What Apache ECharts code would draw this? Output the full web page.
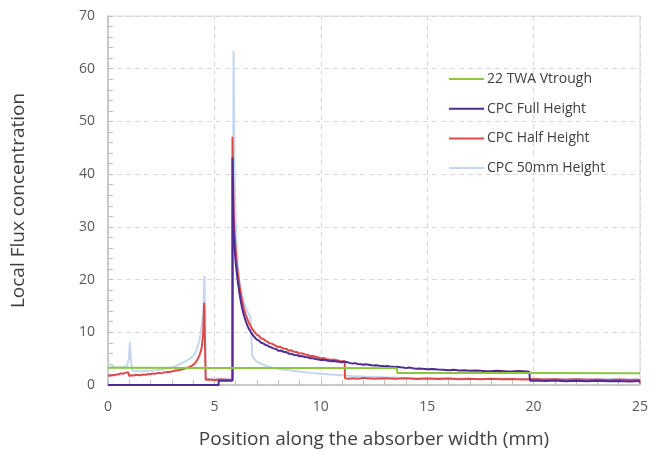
<!DOCTYPE html>
<html>
<head>
<meta charset="utf-8">
<script src="https://cdn.jsdelivr.net/npm/echarts@6/dist/echarts.min.js"></script>
<style>
  html, body { margin: 0; padding: 0; background: #fff; }
  #chart { width: 651px; height: 454px; }
</style>
</head>
<body>
<div id="chart"></div>
<script>
// Local flux concentration profiles across the absorber, [position mm, concentration]
const seriesNames = ['22 TWA Vtrough', 'CPC Full Height', 'CPC Half Height', 'CPC 50mm Height'];

const vtrough = [
  [0, 3.25], [5, 3.23], [10, 3.22], [13.57, 3.2], [13.6, 2.3], [20, 2.27], [25, 2.25]
];

const fullHeight = [
  [0, 0], [5.2, 0], [5.2, 0.8], [5.85, 0.8], [5.85, 43.1], [5.9, 30], [5.95, 26],
  [6.0, 23.2], [6.05, 21.3], [6.1, 19.6], [6.2, 16.8], [6.3, 14.6], [6.4, 13.0],
  [6.5, 11.8], [6.6, 10.8], [6.7, 10.1], [6.8, 9.5], [6.9, 9.0], [7.0, 8.6],
  [7.1, 8.4], [7.2, 8.0], [7.3, 7.9], [7.4, 7.6], [7.5, 7.5], [7.6, 7.2], [7.7, 7.1],
  [7.8, 6.9], [7.9, 6.8], [8.0, 6.5], [8.1, 6.55], [8.25, 6.3], [8.4, 6.2],
  [8.5, 5.95], [8.6, 5.95], [8.75, 5.7], [8.9, 5.65], [9.0, 5.45], [9.1, 5.5],
  [9.25, 5.3], [9.4, 5.25], [9.5, 5.05], [9.6, 5.1], [9.75, 4.95], [9.9, 4.85],
  [10, 4.75], [10.1, 4.8], [10.25, 4.7], [10.4, 4.55], [10.5, 4.5], [10.6, 4.55],
  [10.75, 4.45], [10.9, 4.35], [11, 4.3], [11.1, 4.4], [11.25, 4.3], [11.4, 4.15],
  [11.5, 4.1], [11.6, 4.15], [11.75, 4.0], [11.9, 3.95], [12, 3.85], [12.1, 3.95],
  [12.25, 3.85], [12.4, 3.75], [12.5, 3.7], [12.6, 3.75], [12.75, 3.65],
  [12.9, 3.6], [13, 3.5], [13.1, 3.6], [13.25, 3.5], [13.4, 3.45], [13.5, 3.4],
  [13.6, 3.45], [13.75, 3.35], [13.9, 3.3], [14, 3.2], [14.1, 3.3], [14.25, 3.25],
  [14.4, 3.15], [14.5, 3.1], [14.6, 3.15], [14.75, 3.1], [14.9, 3.05], [15, 3.0],
  [15.25, 3.05], [15.5, 2.95], [15.75, 2.9], [16, 2.8], [16.25, 2.9], [16.5, 2.75],
  [16.75, 2.8], [17, 2.7], [17.25, 2.75], [17.5, 2.7], [17.75, 2.6], [18, 2.6],
  [18.25, 2.7], [18.5, 2.65], [18.75, 2.55], [19, 2.55], [19.25, 2.65], [19.5, 2.6],
  [19.8, 2.5], [19.83, 0.8], [20.25, 0.85], [20.5, 0.75], [21, 0.85], [21.5, 0.7],
  [22, 0.8], [22.5, 0.7], [23, 0.8], [23.5, 0.7], [24, 0.75], [24.5, 0.65], [25, 0.75]
];

const halfHeight = [
  [0, 1.8], [0.1, 1.75], [0.2, 1.9], [0.3, 1.85], [0.4, 2.0], [0.5, 2.05], [0.6, 2.2],
  [0.7, 2.15], [0.8, 2.3], [0.95, 2.4], [1.0, 1.7], [1.1, 1.85], [1.2, 1.8],
  [1.3, 1.95], [1.4, 1.9], [1.5, 1.85], [1.6, 1.95], [1.7, 2.0], [1.8, 1.95],
  [1.9, 2.1], [2.0, 2.05], [2.1, 2.2], [2.2, 2.1], [2.3, 2.25], [2.4, 2.3],
  [2.5, 2.2], [2.6, 2.35], [2.7, 2.4], [2.8, 2.5], [2.9, 2.45], [3.0, 2.6],
  [3.1, 2.65], [3.2, 2.8], [3.3, 2.75], [3.4, 2.9], [3.5, 3.0], [3.6, 3.1],
  [3.7, 3.2], [3.8, 3.4], [3.9, 3.55], [4.0, 3.8], [4.1, 4.2], [4.2, 4.8],
  [4.3, 5.6], [4.4, 7.0], [4.47, 9.5], [4.52, 15.6], [4.57, 15.6], [4.59, 1.0],
  [4.8, 1.05], [5.0, 0.9], [5.2, 1.05], [5.5, 1.0], [5.7, 0.95], [5.85, 1.0],
  [5.85, 47.1], [5.9, 33], [5.95, 28.5], [6.0, 25.5], [6.05, 23.2], [6.1, 21.3],
  [6.2, 18.3], [6.3, 16.0], [6.4, 14.3], [6.5, 13.0], [6.6, 12.0], [6.7, 11.2],
  [6.8, 10.5], [6.9, 10.0], [7.0, 9.5], [7.1, 9.3], [7.2, 8.8], [7.3, 8.75],
  [7.4, 8.4], [7.5, 8.2], [7.6, 7.9], [7.7, 7.85], [7.8, 7.6], [7.9, 7.4],
  [8.0, 7.2], [8.1, 7.25], [8.25, 6.9], [8.4, 6.85], [8.5, 6.5], [8.6, 6.6],
  [8.75, 6.3], [8.9, 6.2], [9.0, 5.95], [9.1, 6.05], [9.25, 5.8], [9.4, 5.7],
  [9.5, 5.45], [9.6, 5.55], [9.75, 5.35], [9.9, 5.2], [10, 5.05], [10.1, 5.15],
  [10.25, 4.95], [10.4, 4.85], [10.5, 4.75], [10.6, 4.85], [10.75, 4.7],
  [10.9, 4.55], [11, 4.5], [11.12, 4.55], [11.14, 1.3], [11.3, 1.2], [11.5, 1.3],
  [11.75, 1.2], [12, 1.35], [12.5, 1.2], [13, 1.3], [13.5, 1.2], [14, 1.3],
  [14.5, 1.15], [15, 1.25], [15.5, 1.15], [16, 1.25], [16.5, 1.1], [17, 1.2],
  [17.5, 1.1], [18, 1.2], [18.5, 1.1], [19, 1.15], [19.5, 1.05], [20, 1.15],
  [20.5, 1.05], [21, 1.1], [21.5, 1.0], [22, 1.1], [22.5, 1.0], [23, 1.05],
  [23.5, 0.95], [24, 1.05], [24.5, 0.95], [24.95, 1.0], [25, 0.3]
];

const height50mm = [
  [0, 4.0], [0.15, 3.8], [0.3, 3.4], [0.5, 3.3], [0.7, 3.4], [0.9, 3.6], [0.98, 5.0],
  [1.03, 8.1], [1.08, 4.5], [1.15, 2.7], [1.5, 2.6], [2.0, 2.7], [2.5, 2.9],
  [3.0, 3.3], [3.4, 4.0], [3.7, 4.6], [4.0, 5.5], [4.15, 6.5], [4.3, 8.5],
  [4.4, 11], [4.48, 14], [4.53, 20.7], [4.57, 12], [4.6, 1.2], [5.85, 1.2],
  [5.9, 63.3], [5.95, 40], [6.0, 31], [6.05, 26], [6.1, 22.5], [6.2, 19],
  [6.3, 17], [6.4, 15.6], [6.5, 14.5], [6.6, 13.6], [6.7, 12.8], [6.74, 12.5],
  [6.78, 5.5], [6.9, 4.8], [7.0, 4.4], [7.25, 3.9], [7.5, 3.5], [8, 3.05],
  [8.5, 2.8], [9, 2.55], [9.5, 2.3], [10, 2.15], [10.5, 2.0], [11, 1.85],
  [11.5, 1.7], [12, 1.6], [13, 1.45], [14, 1.35], [15, 1.3], [17, 1.2],
  [20, 1.15], [25, 1.1]
];

const xTicks = { min: 0, max: 25, interval: 5 };
const yTicks = { min: 0, max: 70, interval: 10 };

const colors = ['#8dc63f', '#4f2c94', '#dc4b4b', '#c6d6ef'];
const FONT = 'Open Sans';

const chart = echarts.init(document.getElementById('chart'), null, { renderer: 'canvas' });

function lineSeries(name, data, color, z, width) {
  return {
    name: name,
    type: 'line',
    data: data,
    showSymbol: false,
    symbol: 'none',
    z: z,
    animation: false,
    lineStyle: { color: color, width: width },
    itemStyle: { color: color }
  };
}

chart.setOption({
  backgroundColor: '#ffffff',
  animation: false,
  color: colors,
  grid: {
    left: 108, right: 9, top: 16, bottom: 68,
    show: true, borderColor: '#d9d9d9', borderWidth: 1, backgroundColor: 'transparent'
  },
  legend: {
    orient: 'vertical',
    left: 444, top: 67,
    itemWidth: 35, itemHeight: 14, itemGap: 15.7,
    icon: 'path://M0,6 L35,6 L35,8 L0,8 Z',
    textStyle: { fontFamily: FONT, fontSize: 14, color: '#404040', padding: [0, 0, 0, -2] },
    data: seriesNames
  },
  xAxis: {
    type: 'value',
    min: xTicks.min, max: xTicks.max, interval: xTicks.interval,
    name: 'Position along the absorber width (mm)',
    nameLocation: 'middle', nameGap: 45,
    nameTextStyle: { fontFamily: FONT, fontSize: 19, color: '#404040' },
    axisLine: { show: true, lineStyle: { color: '#bfbfbf', width: 1.5 } },
    axisTick: { show: true, inside: true, length: 5, lineStyle: { color: '#bfbfbf' } },
    minorTick: { show: true, splitNumber: 5, length: 5, lineStyle: { color: '#bfbfbf' } },
    axisLabel: { fontFamily: FONT, fontSize: 14, color: '#595959', margin: 15 },
    splitLine: { show: true, lineStyle: { color: '#d9d9d9', type: [5, 4] } }
  },
  yAxis: {
    type: 'value',
    min: yTicks.min, max: yTicks.max, interval: yTicks.interval,
    name: 'Local Flux concentration',
    nameLocation: 'middle', nameGap: 80,
    nameTextStyle: { fontFamily: FONT, fontSize: 19, color: '#404040' },
    axisLine: { show: true, lineStyle: { color: '#bfbfbf', width: 1.5 } },
    axisTick: { show: true, inside: true, length: 5, lineStyle: { color: '#bfbfbf' } },
    minorTick: { show: true, splitNumber: 5, length: 5, lineStyle: { color: '#bfbfbf' } },
    axisLabel: { fontFamily: FONT, fontSize: 14, color: '#595959', margin: 13 },
    splitLine: { show: true, lineStyle: { color: '#d9d9d9', type: [5, 4] } }
  },
  series: [
    lineSeries(seriesNames[0], vtrough, colors[0], 4, 2),
    lineSeries(seriesNames[1], fullHeight, colors[1], 3, 2),
    lineSeries(seriesNames[2], halfHeight, colors[2], 2, 2),
    lineSeries(seriesNames[3], height50mm, colors[3], 1, 2)
  ]
});
</script>
</body>
</html>
